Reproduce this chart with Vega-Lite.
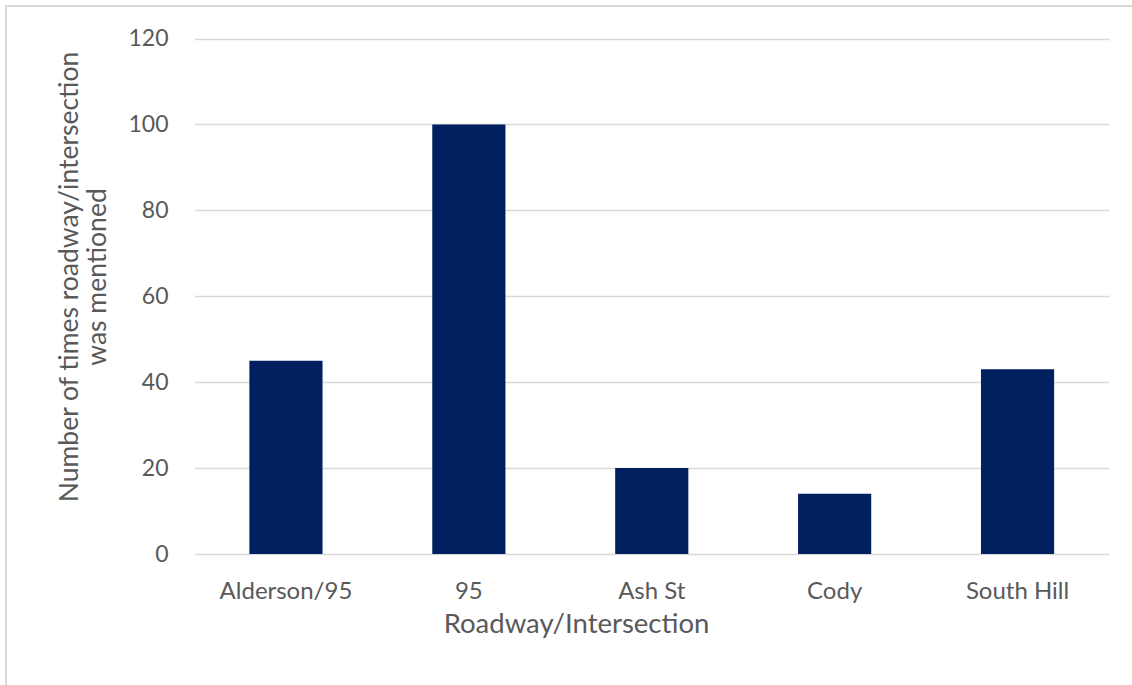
{
  "$schema": "https://vega.github.io/schema/vega-lite/v6.json",
  "width": 1126,
  "height": 679,
  "autosize": {"type": "none"},
  "padding": {"left": 6, "top": 6, "right": 0, "bottom": 0},
  "background": "white",
  "view": {
    "fill": "white",
    "stroke": "#d9d9d9",
    "strokeWidth": 2,
    "strokeDash": [1126, 1805, 679]
  },
  "data": {
    "values": [
      {"road": "Alderson/95", "count": 45},
      {"road": "95", "count": 100},
      {"road": "Ash St", "count": 20},
      {"road": "Cody", "count": 14},
      {"road": "South Hill", "count": 43}
    ]
  },
  "mark": {"type": "bar", "color": "#002060"},
  "encoding": {
    "x": {
      "field": "road",
      "type": "nominal",
      "sort": null,
      "scale": {"range": [188.5, 1103], "paddingInner": 0.6, "paddingOuter": 0.3},
      "axis": {
        "orient": "bottom",
        "offset": -131,
        "domain": false,
        "ticks": false,
        "tickSize": 0,
        "grid": false,
        "labelAngle": 0,
        "labelPadding": 25,
        "labelFont": "Lato",
        "labelFontSize": 24,
        "labelColor": "#595959",
        "title": "Roadway/Intersection",
        "titleFont": "Lato",
        "titleFontSize": 27.5,
        "titleFontWeight": "normal",
        "titleColor": "#595959",
        "titleX": 570,
        "titleY": 78,
        "titleAlign": "center",
        "titleBaseline": "alphabetic"
      }
    },
    "y": {
      "field": "count",
      "type": "quantitative",
      "scale": {"domain": [0, 120], "range": [548, 32.5], "nice": false},
      "axis": {
        "values": [0, 20, 40, 60, 80, 100, 120],
        "offset": -172,
        "grid": true,
        "gridColor": "#d9d9d9",
        "gridWidth": 1.5,
        "domain": false,
        "ticks": false,
        "tickSize": 0,
        "labelPadding": 10,
        "labelFont": "Lato",
        "labelFontSize": 23,
        "labelColor": "#595959",
        "title": ["Number of times roadway/intersection", "was mentioned"],
        "titleFont": "Lato",
        "titleFontSize": 26.5,
        "titleFontWeight": "normal",
        "titleColor": "#595959",
        "titleAngle": 270,
        "titleX": -101,
        "titleY": 270.5,
        "titleAlign": "center",
        "titleBaseline": "alphabetic",
        "titleLineHeight": 28
      }
    }
  }
}
